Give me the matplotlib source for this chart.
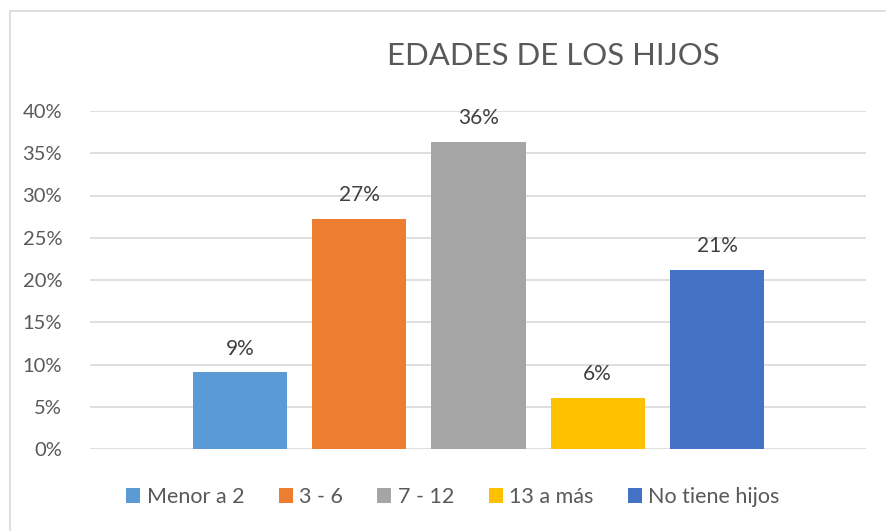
import matplotlib
matplotlib.use("Agg")
from matplotlib import pyplot as plt
from matplotlib.patches import Rectangle

categories = ["Menor a 2", "3 - 6", "7 - 12", "13 a más", "No tiene hijos"]
values = [3/33, 9/33, 12/33, 2/33, 7/33]
labels = ["9%", "27%", "36%", "6%", "21%"]
colors = ["#5B9BD5", "#ED7D31", "#A5A5A5", "#FFC000", "#4472C4"]
yticks = [0, 0.05, 0.10, 0.15, 0.20, 0.25, 0.30, 0.35, 0.40]

plt.rcParams['font.family'] = ['Lato', 'DejaVu Sans']

fig = plt.figure(figsize=(8.86, 5.31), dpi=100)
ax = fig.add_axes([90/886, 1-449/531, 776/886, 338/531])

# outer chart frame (Excel style)
fig.patches.append(Rectangle((10/886, -0.1), 1.1, 1 - 11/531 + 0.1,
                             transform=fig.transFigure, fill=False,
                             edgecolor="#D9D9D9", linewidth=1.2))

for i, (v, c, lab) in enumerate(zip(values, colors, labels)):
    ax.bar(i, v, width=0.79, color=c, label=categories[i], zorder=3)
    ax.text(i, v + 0.016, lab, ha="center", va="bottom", fontsize=15, color="#404040")

ax.set_xlim(-1.258, 5.25)
ax.set_ylim(0, 0.40)
ax.set_yticks(yticks)
ax.set_yticklabels(["%d%%" % round(t*100) for t in yticks], fontsize=14.5, color="#595959")
ax.set_xticks([])
ax.tick_params(axis="y", length=0, pad=20)
ax.grid(axis="y", color="#D9D9D9", linewidth=1.2, zorder=0)
for s in ax.spines.values():
    s.set_visible(False)

fig.text(553/886, 1-56/531, "EDADES DE LOS HIJOS", ha="center", va="center",
         fontsize=22.4, color="#595959")

fig.legend(loc="center", bbox_to_anchor=(453/886, 1-497/531), ncol=5, frameon=False,
           fontsize=15.5, handlelength=0.65, handleheight=0.65, handletextpad=0.3,
           columnspacing=1.6, labelcolor="#595959")

fig.savefig("out.png", dpi=100)
